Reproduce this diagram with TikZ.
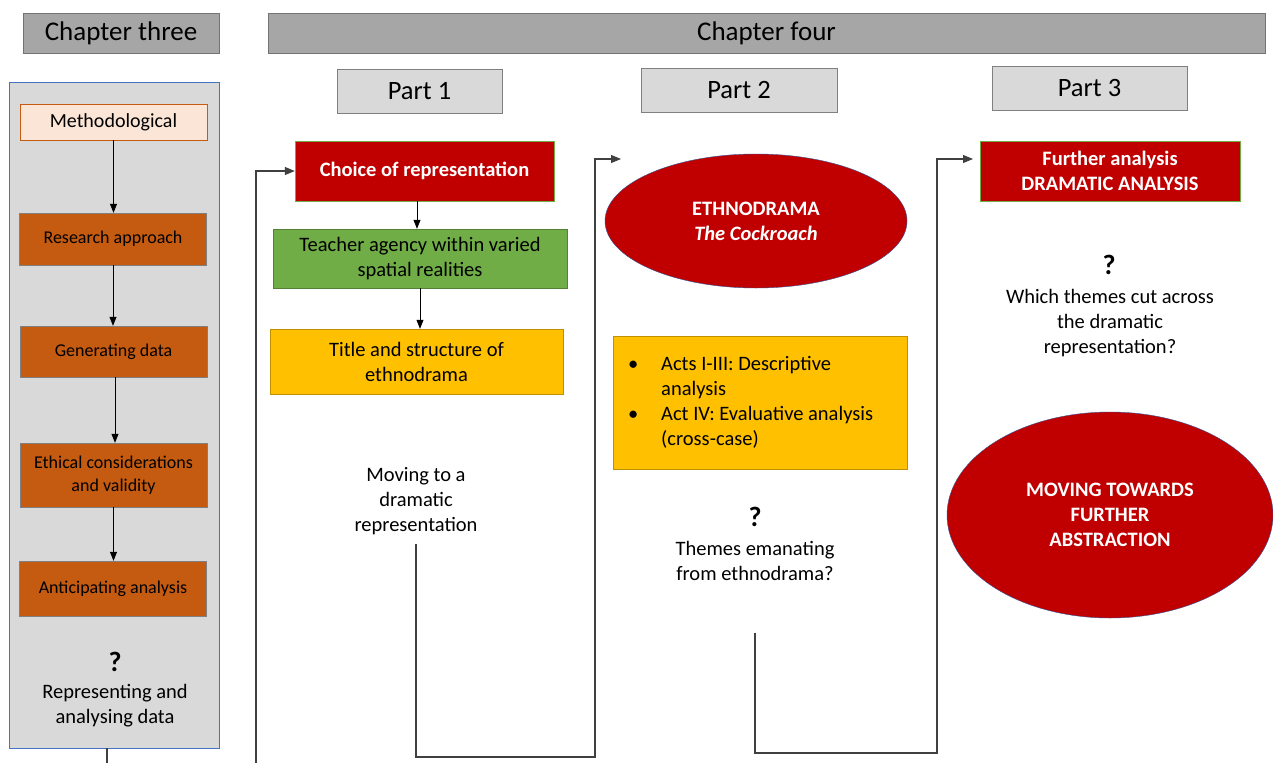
\documentclass[tikz,border=0pt]{standalone}
\usepackage{fontspec}
\setmainfont{Carlito}
\usetikzlibrary{arrows.meta,shapes.geometric}
\definecolor{chapgray}{HTML}{A6A6A6}
\definecolor{lightgray}{HTML}{D9D9D9}
\definecolor{rust}{HTML}{C55A11}
\definecolor{peach}{HTML}{FBE5D6}
\definecolor{darkred}{HTML}{C00000}
\definecolor{leaf}{HTML}{70AD47}
\definecolor{leafdark}{HTML}{548235}
\definecolor{amber}{HTML}{FFC000}
\definecolor{amberdark}{HTML}{BF9000}
\definecolor{edgeblue}{HTML}{4472C4}
\definecolor{ovalblue}{HTML}{2F5597}
\begin{document}
\begin{tikzpicture}[x=1pt,y=-1pt]
\tikzstyle{every node}=[font=\fontsize{20.5}{25}\selectfont, align=center, inner sep=0pt]
\tikzstyle{chapter}=[draw=black!55, fill=chapgray, font=\fontsize{27}{30}\selectfont, minimum height=40pt]
\tikzstyle{part}=[draw=black!50, fill=lightgray, font=\fontsize{26.5}{30}\selectfont, minimum height=44pt]
\tikzstyle{stepbox}=[draw=black!50, fill=rust, minimum width=187pt, font=\fontsize{18}{23}\selectfont]
\tikzstyle{redbox}=[draw=leaf, fill=darkred, text=white, font=\bfseries\fontsize{20.5}{25}\selectfont, minimum height=60pt]
\tikzstyle{oval}=[ellipse, draw=ovalblue, fill=darkred, text=white, font=\bfseries\fontsize{20.5}{25}\selectfont]
\tikzstyle{qmark}=[font=\bfseries\fontsize{28}{30}\selectfont]
\tikzstyle{arr}=[black, line width=0.8pt, -{Triangle[length=9pt,width=7pt]}]
\tikzstyle{flow}=[black!75, line width=1.1pt, -{Triangle[length=10pt,width=8pt]}]
\useasboundingbox (0,0) rectangle (1273,763);
\node[chapter, minimum width=196pt] (ch3) at (121,33) {Chapter three};
\node[chapter, minimum width=997pt] (ch4) at (766.5,33) {Chapter four};
\node[draw=edgeblue, fill=lightgray, minimum width=210pt, minimum height=666pt] (panel) at (114,415) {};
\node[draw=rust, fill=peach, minimum width=187pt, minimum height=36pt, font=\fontsize{20}{24}\selectfont] (meth) at (113.5,122) {Methodological};
\node[stepbox, minimum height=52pt] (approach) at (113,239) {Research approach};
\node[stepbox, minimum height=51pt] (gendata) at (113.5,351.5) {Generating data};
\node[stepbox, minimum height=64pt] (ethics) at (113.5,475) {Ethical considerations\\and validity};
\node[stepbox, minimum height=55pt] (anticip) at (113,588.5) {Anticipating analysis};
\node[qmark] (q1) at (115,662) {?};
\node (repr) at (115,706) {Representing and\\analysing data};
\draw[arr] (meth) -- (meth |- approach.north);
\draw[arr] (approach) -- (approach |- gendata.north);
\draw[arr] (gendata.south -| 115,0) -- (ethics.north -| 115,0);
\draw[arr] (ethics) -- (ethics |- anticip.north);
\node[part, minimum width=165pt] (part1) at (419.5,91.5) {Part 1};
\node[part, minimum width=196pt] (part2) at (739,90) {Part 2};
\node[part, minimum width=195pt] (part3) at (1089.5,88) {Part 3};
\node[redbox, minimum width=259pt] (choice) at (424.5,171) {Choice of representation};
\node[draw=leafdark, fill=leaf, minimum width=294pt, minimum height=59pt] (agency) at (420,258.5) {Teacher agency within varied\\spatial realities};
\node[draw=amberdark, fill=amber, minimum width=293pt, minimum height=65pt] (title) at (416.5,361.5) {Title and structure of\\ethnodrama};
\draw[arr] (choice.south -| 417,0) -- (agency.north -| 417,0);
\draw[arr] (agency.south -| 420,0) -- (title.north -| 420,0);
\node (moving) at (416,501) {Moving to a\\dramatic\\representation};
\node[oval, minimum width=302pt, minimum height=134pt] (ethno) at (756,221) {ETHNODRAMA\\\textit{The Cockroach}};
\node[draw=amberdark, fill=amber, minimum width=294pt, minimum height=133pt] (acts) at (760,402.5) {};
\node[anchor=west] (actlist) at ([xshift=15pt]acts.west) {\begin{tabular}{@{}l@{\hspace{23pt}}l@{}}
\textbullet & Acts I-III: Descriptive\\
 & analysis\\
\textbullet & Act IV: Evaluative analysis\\
 & (cross-case)
\end{tabular}};
\node[qmark] (q2) at (755,517) {?};
\node (themes) at (755,561) {Themes emanating\\from ethnodrama?};
\node[redbox, minimum width=260pt] (further) at (1110,171) {Further analysis\\DRAMATIC ANALYSIS};
\node[qmark] (q3) at (1109,265) {?};
\node (cutacross) at (1110,323) {Which themes cut across\\the dramatic\\representation?};
\node[oval, minimum width=326pt, minimum height=206pt] (abstract) at (1110,515) {MOVING TOWARDS\\FURTHER\\ABSTRACTION};
\coordinate (panelout) at (107,763);
\coordinate (loopin) at (256,763);
\coordinate (turn1) at (595,757);
\coordinate (p2in) at (621,159);
\coordinate (turn2) at (937,753);
\coordinate (p3in) at (973,159);
\draw[black!75, line width=1.1pt] (panel.south -| panelout) -- (panelout);
\draw[flow] (loopin) |- (choice.west);
\draw[flow] ([yshift=-9pt]moving.south) |- (turn1) |- (p2in);
\draw[flow] ([yshift=-52pt]themes.south) |- (turn2) |- (p3in);
\end{tikzpicture}
\end{document}
